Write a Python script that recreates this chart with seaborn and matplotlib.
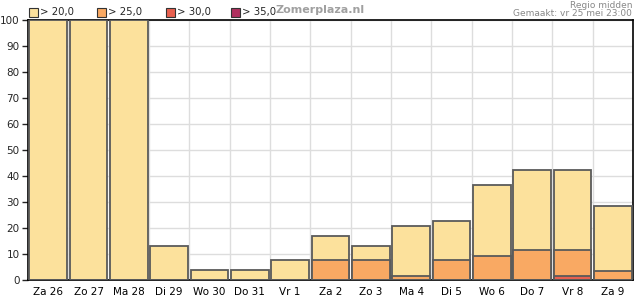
import matplotlib
matplotlib.use("Agg")
import matplotlib.pyplot as plt
import seaborn as sns
import pandas as pd
import numpy as np
from matplotlib.patches import Rectangle

days = ["Za 26", "Zo 27", "Ma 28", "Di 29", "Wo 30", "Do 31", "Vr 1", "Za 2",
        "Zo 3", "Ma 4", "Di 5", "Wo 6", "Do 7", "Vr 8", "Za 9"]
gt20 = [100, 100, 100, 13.2, 3.7, 3.7, 7.6, 17.0, 13.2, 20.9, 22.8, 36.4, 42.2, 42.2, 28.6]
gt25 = [0, 0, 0, 0, 0, 0, 0, 7.6, 7.6, 1.7, 7.6, 9.4, 11.4, 11.4, 3.6]
gt30 = [0, 0, 0, 0, 0, 0, 0, 0, 0, 0, 0, 0, 0, 1.5, 0]
gt35 = [0, 0, 0, 0, 0, 0, 0, 0, 0, 0, 0, 0, 0, 0, 0]
series_labels = ["> 20,0", "> 25,0", "> 30,0", "> 35,0"]
colors = ["#FCE19C", "#F9A963", "#E8604F", "#B0305F"]

sns.set_style("white")
plt.rcParams["font.family"] = ["DejaVu Sans"]

fig = plt.figure(figsize=(6.35, 3.0), dpi=100)
ax = fig.add_axes([28 / 635, 20 / 300, 605 / 635, 260 / 300])

for vals, col in zip([gt20, gt25, gt30, gt35], colors):
    df = pd.DataFrame({"day": days, "v": vals})
    sns.barplot(data=df, x="day", y="v", order=days, color=col, width=0.94,
                edgecolor="#5a5a5a", linewidth=1.3, saturation=1, ax=ax, zorder=3)

ax.set_xlim(-0.5, len(days) - 0.5)
ax.set_ylim(0, 100)
ax.set_xlabel("")
ax.set_ylabel("")
ax.set_yticks(np.arange(0, 101, 10))
ax.set_xticks(np.arange(len(days)))
ax.set_xticklabels(days)
ax.set_xticks(np.arange(len(days)) - 0.5, minor=True)
ax.tick_params(axis="x", which="major", length=0, pad=5, labelsize=7.5, colors="black")
ax.tick_params(axis="x", which="minor", length=4, width=1, color="black", direction="out")
ax.tick_params(axis="y", length=4, width=1, pad=2, labelsize=7.5, direction="out", left=True)
ax.grid(True, axis="y", color="#dddddd", linewidth=1, zorder=0)
ax.grid(True, axis="x", which="minor", color="#dddddd", linewidth=1, zorder=0)
ax.set_axisbelow(True)
for s in ax.spines.values():
    s.set_color("black")
    s.set_linewidth(1.2)
    s.set_visible(True)

# legend
leg_x = [29, 97, 166, 231]
for x0, lab, col in zip(leg_x, series_labels, colors):
    fig.patches.append(Rectangle((x0 / 635, 1 - 17 / 300), 9 / 635, 9 / 300,
                                 transform=fig.transFigure, facecolor=col,
                                 edgecolor="#333333", linewidth=0.8))
    fig.text((x0 + 11) / 635, 1 - 12.5 / 300, lab, fontsize=7.3, va="center", ha="left")

fig.text(320 / 635, 1 - 10 / 300, "Zomerplaza.nl", fontsize=8, fontweight="bold",
         color="#a0a0a0", ha="center", va="center")
fig.text(632 / 635, 1 - 5 / 300, "Regio midden", fontsize=6.5, color="#888888",
         ha="right", va="center")
fig.text(632 / 635, 1 - 14 / 300, "Gemaakt: vr 25 mei 23:00", fontsize=6.5,
         color="#888888", ha="right", va="center")

fig.savefig("out.png", dpi=100)
